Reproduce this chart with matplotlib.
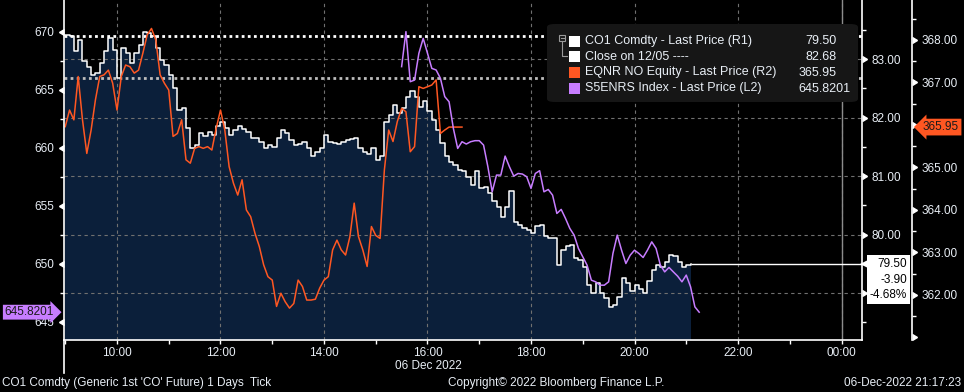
import numpy as np
import matplotlib
matplotlib.use('Agg')
import matplotlib.pyplot as plt
from matplotlib import markers as mmarkers
from matplotlib.patches import FancyBboxPatch, Rectangle
from matplotlib.lines import Line2D
from matplotlib.transforms import blended_transform_factory, offset_copy

plt.rcParams['font.family'] = ['Liberation Sans', 'DejaVu Sans']

# ---- data (5 minute samples) ----
co1_start = 9.0          # hours, 09:00
eqnr_start = 9.0
s5_start = 15.5          # 15:30
step_min = 5

co1 = [83.42, 83.39, 83.13, 83.33, 82.96, 82.87, 82.73, 82.76, 82.93, 83.13,
       83.36, 83.16, 82.67, 83.19, 83.10, 82.93, 83.10, 83.24, 83.47, 83.44,
       83.39, 83.19, 82.99, 82.90, 82.72,
       82.50, 82.13, 82.16, 81.82, 81.48, 81.54, 81.73, 81.68, 81.76, 81.71,
       81.85, 81.93, 81.82, 81.71, 81.79, 81.85, 81.80, 81.76, 81.65, 81.65,
       81.59, 81.48, 81.54, 81.50,
       81.65, 81.79, 81.73, 81.62, 81.54, 81.55, 81.59, 81.48, 81.34, 81.42,
       81.48, 81.71, 81.59, 81.57, 81.55, 81.59, 81.62, 81.63, 81.65, 81.48,
       81.42, 81.38, 81.48, 81.28,
       81.34, 81.93, 82.05, 82.22, 82.08, 82.16, 82.36, 82.45, 82.36, 82.18,
       82.28, 82.12, 81.96, 81.79, 81.56, 81.34, 81.25, 81.19, 81.11, 81.08,
       80.99, 80.85, 81.08, 80.79,
       80.82, 80.71, 80.57, 80.48, 80.31, 80.48, 80.74, 80.22, 80.16, 80.11,
       80.08, 80.03, 80.14, 80.16, 79.98, 79.94, 79.94, 79.48, 79.74, 79.80,
       79.83, 79.60, 79.57, 79.45,
       79.14, 79.00, 79.17, 79.00, 78.91, 78.77, 78.80, 78.94, 79.26, 79.17,
       79.03, 79.14, 79.08, 79.00, 79.20, 79.40, 79.48, 79.45, 79.54, 79.66,
       79.63, 79.54, 79.45, 79.48, 79.50]

eqnr = [365.96, 366.35, 366.12, 367.14, 366.12, 365.33, 365.88, 366.59, 367.14, 367.18,
        367.29, 366.98, 366.35, 367.14, 367.41, 367.37, 367.22, 367.29, 367.69, 368.12,
        368.27, 368.00, 367.18, 366.98, 366.82,
        365.73, 365.80, 366.12, 365.18, 365.10, 365.45, 365.49, 365.45, 365.49, 365.41,
        365.92, 366.35, 365.88, 365.02, 364.63, 364.35, 364.71, 364.00, 363.84, 363.45,
        363.14, 362.71, 362.43, 362.35,
        361.73, 362.04, 361.84, 361.69, 361.80, 362.35, 362.20, 361.88, 361.88, 361.90,
        362.16, 362.35, 362.43, 363.06, 363.29, 363.06, 362.94, 363.37, 364.16, 363.37,
        363.06, 362.67, 363.61, 363.40,
        363.33, 364.94, 365.88, 365.61, 366.08, 366.39, 366.31, 365.37, 365.49, 366.90,
        366.86, 366.90, 366.94, 367.06, 365.80, 365.88, 365.95, 365.95, 365.95, 365.95]

s5enrs = [667.01, 670.03, 665.71, 665.85, 668.16, 669.45, 668.16, 666.86, 666.72, 666.00,
          664.42, 663.98, 661.68, 659.95, 660.53, 660.33, 660.53, 660.62, 660.62,
          660.24, 658.37, 656.21, 657.65, 657.65, 659.29, 658.37, 657.56, 657.79, 657.74,
          657.51, 656.50, 657.79, 658.03, 656.21, 656.41, 655.92, 654.34, 654.69, 653.91,
          653.05, 652.47, 651.32, 650.60,
          649.88, 648.58, 648.44, 648.15, 648.15, 648.44, 650.89, 652.47, 651.17, 650.02,
          650.74, 651.17, 650.89, 650.54, 651.17, 651.89, 651.32, 649.88, 649.30, 649.68,
          649.30, 648.93, 648.44, 649.02, 648.01, 646.28, 645.8201]

prev_close = 83.40
close_1205 = 82.68

x_ticks = [10, 12, 14, 16, 18, 20, 22, 24]
r1_ticks = [79, 80, 81, 82, 83]
r2_ticks = [361, 362, 363, 364, 365, 366, 367, 368]
l2_ticks = [645, 650, 655, 660, 665, 670]

t_co1 = co1_start + np.arange(len(co1)) * step_min / 60
t_eq = eqnr_start + np.arange(len(eqnr)) * step_min / 60
t_s5 = s5_start + np.arange(len(s5enrs)) * step_min / 60

# ---- layout ----
W, H = 964, 392
def fx(px): return px / W
def fy(py): return 1 - py / H

NAVY = '#0b1f3a'
ORANGE = '#ff5722'
PURPLE = '#c77dff'
GRID = '#707070'
TXT = '#e8eef5'
FS = 8.5

fig = plt.figure(figsize=(W / 100, H / 100), dpi=100, facecolor='black')
L, R, B = 64, 862, 340
ax1 = fig.add_axes([fx(L), fy(B), (R - L) / W, B / H])
ax1.set_facecolor('black')
ax2 = ax1.twinx()
ax3 = ax1.twinx()

XLIM = (8.976, 24.396)
for a in (ax1, ax2, ax3):
    a.set_xlim(*XLIM)
ax1.set_ylim(78.20, 84.01)
ax2.set_ylim(360.94, 368.94)
ax3.set_ylim(643.42, 672.76)

# CO1 area + tick line
ybot = ax1.get_ylim()[0]
ax1.fill_between(t_co1, co1, ybot, step='post', color=NAVY, lw=0, zorder=1)
ax1.plot(t_co1, co1, drawstyle='steps-post', color='white', lw=1.1, zorder=3)
ax1.hlines(co1[-1], t_co1[-1], XLIM[1], color='white', lw=1, zorder=3)
ax1.axhline(prev_close, color='white', lw=2, ls=(0, (1, 1.2)), zorder=2.5)
ax1.axhline(close_1205, color='#bdbdbd', lw=2, ls=(0, (1, 1.2)), zorder=2.5)
ax1.axvline(24, color='#8c8c8c', lw=1, zorder=1.6)
ax1.grid(which='major', color=GRID, lw=0.8, ls=(0, (3, 3)))

ax2.plot(t_eq, eqnr, color=ORANGE, lw=1.1)
ax3.plot(t_s5, s5enrs, color=PURPLE, lw=1.1)

# spines
for a in (ax1, ax2, ax3):
    for s in a.spines.values():
        s.set_visible(False)
for a, name in ((ax1, 'bottom'), (ax1, 'right'), (ax2, 'right'), (ax3, 'left')):
    a.spines[name].set_visible(True)
    a.spines[name].set_color('white')
    a.spines[name].set_linewidth(1.2)
ax2.spines['right'].set_position(('axes', (912 - L) / (R - L)))

ax1.yaxis.tick_right()
ax2.yaxis.tick_right()
ax3.yaxis.tick_left()

# ticks (labels hidden behind the last-price tags are left blank)
ax1.set_xticks(x_ticks)
ax1.set_xticklabels([f'{h % 24:02d}:00' for h in x_ticks])
ax1.set_xticks(np.arange(9, 25), minor=True)
ax1.set_yticks(r1_ticks)
ax1.set_yticklabels([''] + [f'{v:.2f}' for v in r1_ticks[1:]])
ax1.set_yticks(np.arange(78.5, 84, 1.0), minor=True)
ax2.set_yticks(r2_ticks)
ax2.set_yticklabels([''] + [f'{v:.2f}' for v in r2_ticks[1:]])
ax2.set_yticks(np.arange(361.5, 369, 1.0), minor=True)
ax3.set_yticks(l2_ticks)
ax3.set_yticklabels([str(v) for v in l2_ticks])
ax3.set_yticks(np.arange(647.5, 672, 5.0), minor=True)

ax1.tick_params(axis='x', which='both', colors='white', labelcolor=TXT, direction='out',
                length=3, width=1, pad=2, labelsize=FS)
for a in (ax1, ax2, ax3):
    a.tick_params(axis='y', which='major', colors='white', labelcolor=TXT, direction='out',
                  length=4.5, width=1, pad=2.5, labelsize=FS)
    a.tick_params(axis='y', which='minor', colors='white', direction='out', length=3, width=1)

for a, side in ((ax1, 2), (ax2, 2), (ax3, 1)):
    for tk in a.yaxis.get_major_ticks():
        ln = tk.tick2line if side == 2 else tk.tick1line
        ln.set_marker(mmarkers.CARETRIGHTBASE if side == 2 else mmarkers.CARETLEFTBASE)
        ln.set_markersize(5)
        ln.set_markerfacecolor('white')
        ln.set_markeredgecolor('white')

# price tags on the axes
tr3 = blended_transform_factory(fig.transFigure, ax3.transData)
fig.text(fx(29), s5enrs[-1], f'{s5enrs[-1]:.4f}', transform=tr3, ha='center', va='center',
         color='#1a1a1a', fontsize=FS, zorder=7,
         bbox=dict(boxstyle='rarrow,pad=0.12', fc=PURPLE, ec='none'))
tr2 = blended_transform_factory(fig.transFigure, ax2.transData)
fig.text(fx(941), eqnr[-1], f'{eqnr[-1]:.2f}', transform=tr2, ha='center', va='center',
         color='#1a1a1a', fontsize=FS, zorder=7,
         bbox=dict(boxstyle='larrow,pad=0.2', fc=ORANGE, ec='none'))
tr1 = blended_transform_factory(fig.transFigure, ax1.transData)
chg = co1[-1] - prev_close
pct = chg / prev_close * 100
fig.text(fx(907), co1[-1], f'{co1[-1]:.2f}\n{chg:.2f}\n{pct:.2f}%',
         transform=offset_copy(tr1, fig=fig, y=6, units='dots'), ha='right', va='top',
         multialignment='right', color='black', fontsize=FS, linespacing=1.4, zorder=7,
         bbox=dict(boxstyle='square,pad=0.25', fc='white', ec='none'))
fig.add_artist(Line2D([fx(866)], [co1[-1]], transform=tr1, marker='<', ms=8,
                      color='white', mew=0, zorder=7))

# legend box
fig.add_artist(FancyBboxPatch((fx(547), fy(102)), (858 - 547) / W, 78 / H,
                              boxstyle='round,pad=0,rounding_size=0.008',
                              transform=fig.transFigure, fc='#161616', ec='none', zorder=5))
rows = [41, 56.5, 72.5, 88.5]
names = ['CO1 Comdty - Last Price (R1)', 'Close on 12/05 ----',
         'EQNR NO Equity - Last Price (R2)', 'S5ENRS Index - Last Price (L2)']
vals = [f'{co1[-1]:.2f}', f'{close_1205:.2f}', f'{eqnr[-1]:.2f}', f'{s5enrs[-1]:.4f}']
cols = ['white', 'white', ORANGE, PURPLE]
for ry, nm, v, c in zip(rows, names, vals, cols):
    fig.add_artist(Rectangle((fx(569), fy(ry + 5.5)), 11 / W, 11 / H, transform=fig.transFigure,
                             fc=c, ec='none', zorder=6))
    fig.text(fx(585), fy(ry), nm, color=TXT, fontsize=9, va='center', ha='left', zorder=6)
    if len(v) > 6:
        fig.text(fx(798), fy(ry), v, color=TXT, fontsize=9, va='center', ha='left', zorder=6)
    else:
        fig.text(fx(837), fy(ry), v, color=TXT, fontsize=9, va='center', ha='right', zorder=6)
fig.add_artist(Rectangle((fx(559), fy(41)), 6 / W, 6 / H, transform=fig.transFigure,
                         fc='none', ec='#9a9a9a', lw=0.8, zorder=6))
fig.add_artist(Line2D([fx(560.5), fx(563.5)], [fy(38), fy(38)], transform=fig.transFigure,
                      color='#9a9a9a', lw=0.8, zorder=6))
fig.add_artist(Line2D([fx(562), fx(562), fx(567)], [fy(41), fy(56), fy(56)],
                      transform=fig.transFigure, color='#9a9a9a', lw=0.8, zorder=6))

# bottom texts
fig.add_artist(Line2D([fx(64), fx(64)], [fy(340), fy(373)], transform=fig.transFigure,
                      color='white', lw=1.2))
fig.text(fx(428), fy(366), '06 Dec 2022', color=TXT, fontsize=FS, ha='center', va='center')
fig.text(fx(2), fy(383), "CO1 Comdty (Generic 1st 'CO' Future) 1 Days  Tick", color=TXT,
         fontsize=FS, ha='left', va='center')
fig.text(fx(448), fy(383), 'Copyright\u00a9 2022 Bloomberg Finance L.P.', color=TXT,
         fontsize=FS, ha='left', va='center')
fig.text(fx(961), fy(383), '06-Dec-2022 21:17:23', color=TXT, fontsize=FS,
         ha='right', va='center')

fig.savefig('out.png', dpi=100, facecolor='black')
